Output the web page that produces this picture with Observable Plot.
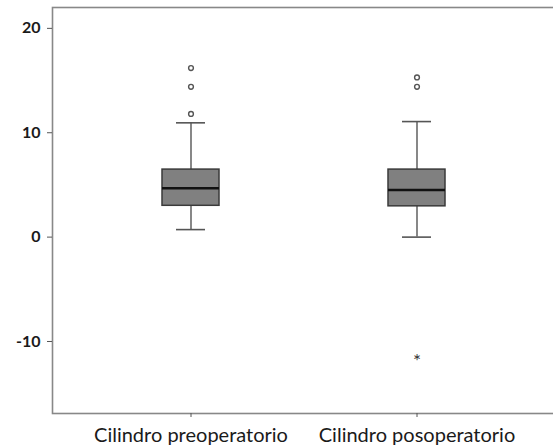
<!DOCTYPE html>
<html>
<head>
<meta charset="utf-8">
<script src="https://cdn.jsdelivr.net/npm/d3@7"></script>
<script src="https://cdn.jsdelivr.net/npm/@observablehq/plot@0.6"></script>
<style>
  html, body { margin: 0; padding: 0; background: #fff; }
  svg { overflow: hidden; }
</style>
</head>
<body>
<div id="chart"></div>
<script>
const categories = ["Cilindro preoperatorio", "Cilindro posoperatorio"];
const q1 = [3.0, 2.95];
const median = [4.68, 4.52];
const q3 = [6.47, 6.47];
const whiskerLow = [0.72, 0.0];
const whiskerHigh = [10.95, 11.07];
const outlierCategory = ["Cilindro preoperatorio", "Cilindro preoperatorio", "Cilindro preoperatorio", "Cilindro posoperatorio", "Cilindro posoperatorio"];
const outlierValue = [11.8, 14.4, 16.2, 14.4, 15.3];
const extremeCategory = ["Cilindro posoperatorio"];
const extremeValue = [-11.5];
const yTicks = [-10, 0, 10, 20];

const boxes = categories.map((c, i) => ({
  cat: c, q1: q1[i], median: median[i], q3: q3[i], lo: whiskerLow[i], hi: whiskerHigh[i]
}));
const outliers = outlierCategory.map((c, i) => ({cat: c, v: outlierValue[i]}));
const extremes = extremeCategory.map((c, i) => ({cat: c, v: extremeValue[i]}));

const whiskerColor = "#555";
const chart = Plot.plot({
  width: 553,
  height: 448,
  marginLeft: 52,
  marginRight: -2,
  marginTop: 7,
  marginBottom: 35,
  style: {fontFamily: "Lato, 'Open Sans', sans-serif", color: "#1a1a1a", background: "#fff"},
  x: {type: "band", domain: categories, paddingInner: 0.749, paddingOuter: 0.487, label: null},
  y: {domain: [-16.9, 22.0], label: null},
  marks: [
    Plot.frame({stroke: "#888", strokeWidth: 1.6}),
    Plot.ruleX(boxes, {x: "cat", y1: "q3", y2: "hi", stroke: whiskerColor, strokeWidth: 1.4}),
    Plot.ruleX(boxes, {x: "cat", y1: "lo", y2: "q1", stroke: whiskerColor, strokeWidth: 1.4}),
    Plot.tickY(boxes, {x: "cat", y: "hi", stroke: whiskerColor, strokeWidth: 1.6, insetLeft: 14, insetRight: 14}),
    Plot.tickY(boxes, {x: "cat", y: "lo", stroke: whiskerColor, strokeWidth: 1.6, insetLeft: 14, insetRight: 14}),
    Plot.barY(boxes, {x: "cat", y1: "q1", y2: "q3", fill: "#808080", stroke: "#3a3a3a", strokeWidth: 1.5}),
    Plot.tickY(boxes, {x: "cat", y: "median", stroke: "#111", strokeWidth: 2.5}),
    Plot.dot(outliers, {x: "cat", y: "v", r: 2.4, stroke: "#555", strokeWidth: 1.4, fill: "#fff"}),
    Plot.text(extremes, {x: "cat", y: "v", text: () => "*", fontSize: 19, fill: "#333", dy: 5}),
    Plot.axisY({ticks: yTicks, tickSize: 5, tickPadding: 7, fontSize: 16, fontWeight: "bold", stroke: "#555", tickFormat: (d) => String(d)}),
    Plot.axisX({tickSize: 4, tickPadding: 10, fontSize: 20, stroke: "#555"})
  ]
});
document.getElementById("chart").appendChild(chart);
</script>
</body>
</html>
